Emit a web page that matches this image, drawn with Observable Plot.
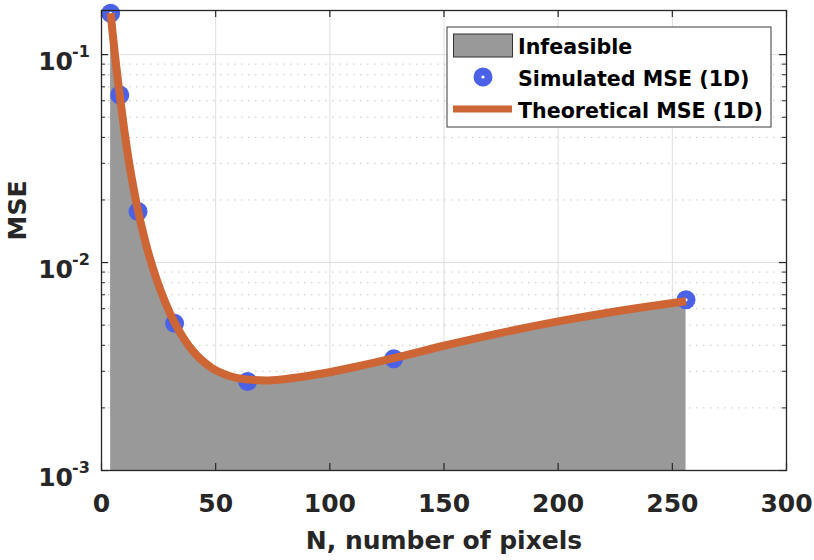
<!DOCTYPE html>
<html>
<head>
<meta charset="utf-8">
<script src="https://cdn.jsdelivr.net/npm/d3@7"></script>
<script src="https://cdn.jsdelivr.net/npm/@observablehq/plot@0.6"></script>
<style>
  html, body { margin: 0; padding: 0; background: white; }
  svg { display: block; }
</style>
</head>
<body>
<script>
// Simulated MSE (1D)
const simN   = [4, 8, 16, 32, 64, 128, 256];
const simMSE = [0.158, 0.064, 0.0176, 0.0051, 0.00268, 0.00345, 0.00662];

// Theoretical MSE (1D)
const thN   = [4, 5, 6, 7, 8, 10, 12, 14, 16, 18, 20, 24, 28, 32, 36, 40, 48, 56, 64, 72, 80, 96, 112, 128, 150, 175, 200, 225, 256];
const thMSE = [0.1585, 0.123, 0.0973, 0.0782, 0.0638, 0.04315, 0.0307, 0.02296, 0.01774, 0.01422, 0.01167, 0.00838, 0.00641, 0.00514, 0.00432, 0.00376, 0.00313, 0.00285, 0.002735, 0.00271, 0.00275, 0.00292, 0.003164, 0.00347, 0.00398, 0.00459, 0.00521, 0.00582, 0.00652];

// Axis ticks
const xTicks = [0, 50, 100, 150, 200, 250, 300];
const xGrid = [50, 100, 150, 200, 250];
const yMajor = [0.001, 0.01, 0.1];
const yExpLabels = ["-3", "-2", "-1"];
const yMinor = [0.002,0.003,0.004,0.005,0.006,0.007,0.008,0.009,0.02,0.03,0.04,0.05,0.06,0.07,0.08,0.09];

const legendLabels = ["Infeasible", "Simulated MSE (1D)", "Theoretical MSE (1D)"];

const sim = simN.map((N, i) => ({N, v: simMSE[i]}));
const theory = thN.map((N, i) => ({N, v: thMSE[i]}));
const yTicksData = yMajor.map((v, i) => ({v, e: yExpLabels[i]}));

const AX = "#262626";
const ORANGE = "#cd6534";
const BLUE = "#4b62e6";
const FONT = "DejaVu Sans";

const plot = Plot.plot({
  width: 814,
  height: 560,
  marginLeft: 101,
  marginRight: 28,
  marginTop: 10,
  marginBottom: 90,
  x: {domain: [0, 300], axis: null},
  y: {type: "log", domain: [0.001, 0.163], axis: null},
  style: {fontFamily: FONT, fontWeight: "bold", background: "white", overflow: "visible"},
  marks: [
    // grid
    Plot.ruleX(xGrid, {x: d => d, stroke: "#dedede", strokeWidth: 1}),
    Plot.ruleY(yMinor, {y: d => d, stroke: "#c4c4c4", strokeWidth: 1, strokeDasharray: "1.5,5.5"}),
    Plot.ruleY([0.01, 0.1], {y: d => d, stroke: "#dedede", strokeWidth: 1}),
    // infeasible area
    Plot.areaY(theory, {x: "N", y1: 0.001, y2: "v", fill: "#999999", curve: "monotone-x"}),
    // simulated points
    Plot.dot(sim, {x: "N", y: "v", r: 9.5, fill: BLUE, stroke: "none"}),
    Plot.dot(sim, {x: "N", y: "v", r: 1.6, fill: "white", stroke: "none"}),
    // theoretical line
    Plot.line(theory, {x: "N", y: "v", stroke: ORANGE, strokeWidth: 8, strokeLinecap: "butt", curve: "monotone-x"}),
    // box
    Plot.frame({stroke: AX, strokeWidth: 1.3}),
    // ticks (inward)
    Plot.tickX(xTicks, {x: d => d, stroke: AX, strokeWidth: 1.2, insetTop: 453}),
    Plot.tickX(xTicks, {x: d => d, stroke: AX, strokeWidth: 1.2, insetBottom: 453}),
    Plot.tickY(yMajor, {y: d => d, stroke: AX, strokeWidth: 1.2, insetRight: 678}),
    Plot.tickY(yMajor, {y: d => d, stroke: AX, strokeWidth: 1.2, insetLeft: 678}),
    Plot.tickY(yMinor, {y: d => d, stroke: AX, strokeWidth: 1, insetRight: 681}),
    Plot.tickY(yMinor, {y: d => d, stroke: AX, strokeWidth: 1, insetLeft: 681}),
    // x tick labels
    Plot.text(xTicks, {x: d => d, y: 0.001, text: d => String(d), dy: 41.7, lineAnchor: "bottom",
      fontSize: 25, fontWeight: "bold", fill: AX}),
    // y tick labels: 10 with superscript exponent
    Plot.text(yTicksData, {x: 0, y: "v", text: () => "10", textAnchor: "end", dx: -28.5, dy: 15,
      lineAnchor: "bottom", fontSize: 25, fontWeight: "bold", fill: AX}),
    Plot.text(yTicksData, {x: 0, y: "v", text: "e", textAnchor: "start", dx: -29.5, dy: 2.7,
      lineAnchor: "bottom", fontSize: 16, fontWeight: "bold", fill: AX}),
    // axis labels
    Plot.text(["N, number of pixels"], {frameAnchor: "bottom", text: d => d, dy: 78, lineAnchor: "bottom",
      fontSize: 25, fontWeight: "bold", fill: AX}),
    Plot.text(["MSE"], {frameAnchor: "left", text: d => d, rotate: -90, dx: -76, lineAnchor: "bottom",
      fontSize: 25, fontWeight: "bold", fill: AX})
  ]
});

document.body.appendChild(plot);

// Legend
const svg = d3.select(plot);
const lg = svg.append("g").attr("font-family", FONT).attr("font-weight", "bold").attr("text-anchor", "start");
lg.append("rect").attr("x", 447).attr("y", 27).attr("width", 324).attr("height", 100)
  .attr("fill", "white").attr("stroke", "#3a3a3a").attr("stroke-width", 1);
lg.append("rect").attr("x", 453.5).attr("y", 34).attr("width", 59).attr("height", 23)
  .attr("fill", "#999999").attr("stroke", "#333").attr("stroke-width", 1);
lg.append("circle").attr("cx", 483).attr("cy", 77).attr("r", 9.5).attr("fill", BLUE);
lg.append("circle").attr("cx", 483).attr("cy", 77).attr("r", 1.6).attr("fill", "white");
lg.append("line").attr("x1", 453).attr("x2", 512).attr("y1", 109).attr("y2", 109)
  .attr("stroke", ORANGE).attr("stroke-width", 7);
const baselines = [54, 86, 118];
legendLabels.forEach((t, i) => {
  lg.append("text").attr("x", 518).attr("y", baselines[i]).attr("font-size", 20.6)
    .attr("text-anchor", "start").attr("fill", "black").text(t);
});
</script>
</body>
</html>
